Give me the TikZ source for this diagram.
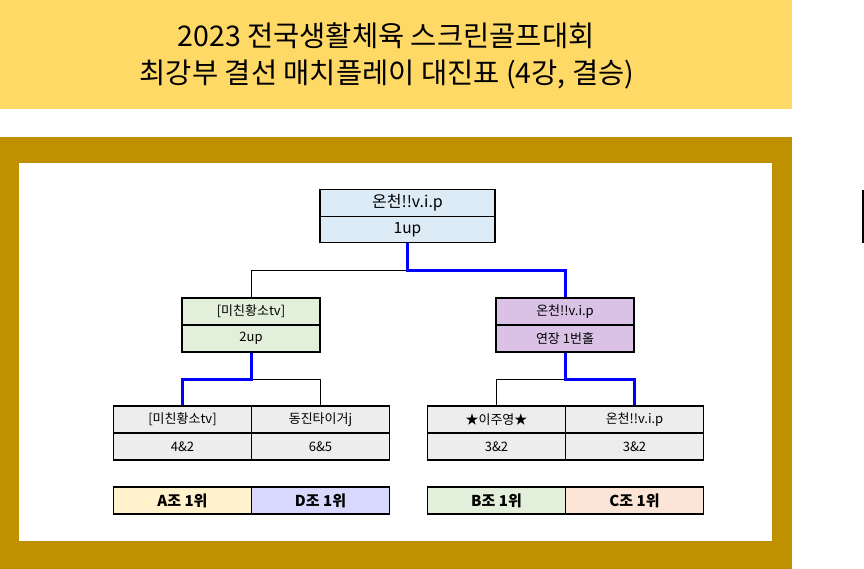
\documentclass[tikz,border=0pt]{standalone}
\usepackage{fontspec}
\setmainfont{Noto Sans CJK KR}
\usepackage{xcolor}
\definecolor{banner}{HTML}{FFD966}
\definecolor{frame}{HTML}{BF9000}
\definecolor{finfill}{HTML}{DDEBF7}
\definecolor{leftfill}{HTML}{E2EFDA}
\definecolor{rightfill}{HTML}{D9C2E6}
\definecolor{qfill}{HTML}{EDEDED}
\definecolor{grpA}{HTML}{FFF2CC}
\definecolor{grpB}{HTML}{E2EFDA}
\definecolor{grpC}{HTML}{FCE4D6}
\definecolor{grpD}{HTML}{D9D9FF}
\definecolor{winblue}{HTML}{0000FF}

\begin{document}
\begin{tikzpicture}
[x=1pt,y=-1pt]
\tikzset{cell/.style={draw,line width=1.6pt,inner sep=0pt,minimum height=27pt,font=\fontsize{13}{15}\selectfont},
	bigcell/.style={cell,minimum width=175pt},
	midcell/.style={cell,minimum width=138pt},
	grpcell/.style={midcell,font=\fontsize{15}{17}\selectfont\bfseries},
	wire/.style={line width=0.8pt},
	win/.style={winblue,line width=3pt}}
\useasboundingbox (0,0) rectangle (864,569);

% banner and frame
\fill [banner] (0,0) rectangle (792,109);
\fill [frame] (0,137) rectangle (792,569);
\fill [white] (19,163) rectangle (772,541);
\draw [line width=1.6pt] (863,190) -- (863,243);
\node [font=\fontsize{28.5}{31}\selectfont] (title1) at (386,36) {2023 전국생활체육 스크린골프대회};
\node [font=\fontsize{28.5}{31}\selectfont] (title2) at (387,75) {최강부 결선 매치플레이 대진표 (4강, 결승)};

% final
\node [bigcell,fill=finfill,font=\fontsize{16}{18}\selectfont] (fin) at (407.5,203) {온천!!v.i.p};
\node [bigcell,fill=finfill,minimum height=26pt,font=\fontsize{15.5}{18}\selectfont] (finS) at (407.5,229.5) {1up};

% semifinals
\node [midcell,fill=leftfill] (s1) at (251,311.5) {[미친황소tv]};
\node [midcell,fill=leftfill] (s1S) at (251,338.5) {2up};
\node [midcell,fill=rightfill] (s2) at (565,311.5) {온천!!v.i.p};
\node [midcell,fill=rightfill] (s2S) at (565,338.5) {연장 1번홀};

% quarterfinals
\node [midcell,fill=qfill] (q1) at (182.5,419.5) {[미친황소tv]};
\node [midcell,fill=qfill] (q1S) at (182.5,446.5) {4\&2};
\node [midcell,fill=qfill] (q2) at (320.5,419.5) {동진타이거j};
\node [midcell,fill=qfill] (q2S) at (320.5,446.5) {6\&5};
\node [midcell,fill=qfill] (q3) at (496.5,419.5) {★이주영★};
\node [midcell,fill=qfill] (q3S) at (496.5,446.5) {3\&2};
\node [midcell,fill=qfill] (q4) at (634.5,419.5) {온천!!v.i.p};
\node [midcell,fill=qfill] (q4S) at (634.5,446.5) {3\&2};

% groups
\node [grpcell,fill=grpA] (gA) at (182.5,500.5) {A조 1위};
\node [grpcell,fill=grpD] (gD) at (320.5,500.5) {D조 1위};
\node [grpcell,fill=grpB] (gB) at (496.5,500.5) {B조 1위};
\node [grpcell,fill=grpC] (gC) at (634.5,500.5) {C조 1위};

% bracket lines
\foreach \from/\to in {finS/s1,s1S/q2,s2S/q3}
	\draw [wire] (\from.south) -- ++(0,27) -| (\to.north);
\foreach \from/\to in {finS/s2,s1S/q1,s2S/q4}
	\draw [win] (\from.south) -- ++(0,27) -| (\to.north);

\end{tikzpicture}
\end{document}
